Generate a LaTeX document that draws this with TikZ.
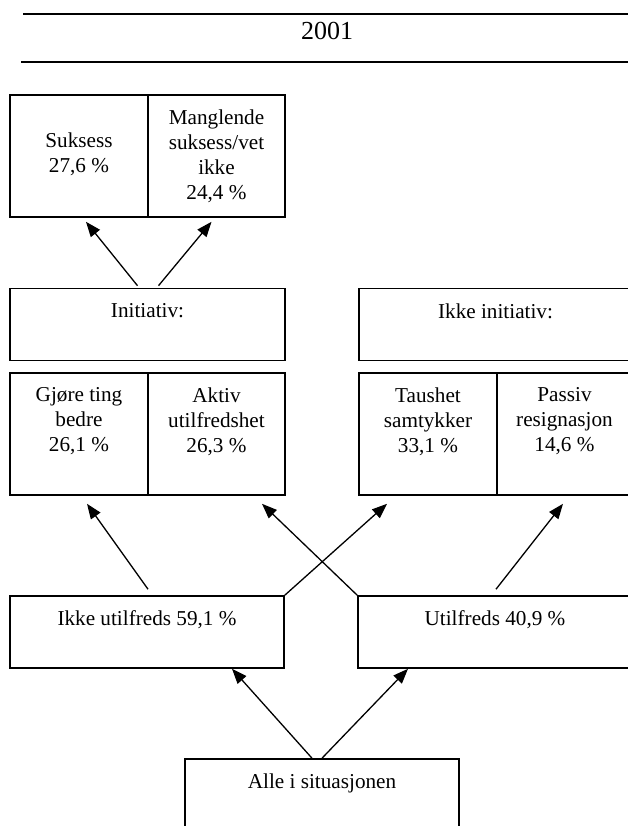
\documentclass[tikz,border=0pt]{standalone}
\usepackage{fontspec}
\setmainfont{Liberation Serif}
\usetikzlibrary{positioning,arrows.meta}
\begin{document}
\begin{tikzpicture}[x=1pt,y=-1pt,
  box/.style={draw,line width=1.6pt,inner sep=0pt},
  cell/.style={box,minimum width=138pt,minimum height=122pt},
  wide/.style={box,minimum width=275pt,minimum height=72pt},
  txt/.style={align=center,inner sep=0pt,font=\fontsize{21.2}{25}\selectfont},
  arr/.style={-{Triangle[length=15pt,width=11.5pt]},line width=1.3pt},
  rule/.style={line width=2.2pt}]
\useasboundingbox (0,0) rectangle (628,826);
\clip (0,0) rectangle (628,826);

% Year heading between two rules.
\draw[rule] (23,14) -- (628,14);
\draw[rule] (21,62) -- (628,62);
\node[txt,font=\fontsize{26}{30}\selectfont] (year) at (327,31) {2001};

% Outcome of taking initiative.
\node[cell] (suksess) at (79,156) {};
\node[cell,minimum width=137pt] (mangl) at (216.5,156) {};
\node[txt,below=38pt of suksess.north] (suksesstxt) {Suksess\\27,6 \%};
\node[txt,below=15pt of mangl.north] (mangltxt)
  {Manglende\\suksess/vet\\ikke\\24,4 \%};

% Initiative headings.
\node[wide] (init) at (147.5,324.5) {};
\node[wide,minimum width=273pt] (ikkeinit) at (495.5,324.5) {};
\node[txt,below=16pt of init.north] (inittxt) {Initiativ:};
\node[txt,below=16pt of ikkeinit.north] (ikkeinittxt) {Ikke initiativ:};

% The four reactions.
\node[cell] (gjore) at (79,434) {};
\node[cell,minimum width=137pt] (aktiv) at (216.5,434) {};
\node[cell] (taus) at (428,434) {};
\node[cell,minimum width=135pt] (passiv) at (564.5,434) {};
\node[txt,below=15pt of gjore.north] (gjoretxt) {Gjøre ting\\bedre\\26,1 \%};
\node[txt,below=15pt of aktiv.north] (aktivtxt) {Aktiv\\utilfredshet\\26,3 \%};
\node[txt,below=15pt of taus.north] (taustxt) {Taushet\\samtykker\\33,1 \%};
\node[txt,below=15pt of passiv.north] (passivtxt) {Passiv\\resignasjon\\14,6 \%};

% Satisfied or not.
\node[wide,minimum width=274pt] (ikkeutil) at (147,632) {};
\node[wide,minimum width=274pt] (util) at (495,632) {};
\node[txt,below=15pt of ikkeutil.north] (ikkeutiltxt) {Ikke utilfreds 59,1 \%};
\node[txt,below=15pt of util.north] (utiltxt) {Utilfreds 40,9 \%};

% Everyone, cut by the page edge.
\node[wide,minimum width=274pt] (alle) at (322,795) {};
\node[txt,below=15pt of alle.north] (alletxt) {Alle i situasjonen};

% Arrows upwards.
\draw[arr] ([xshift=-10pt,yshift=2pt]init.north) -- ([xshift=7pt,yshift=-4pt]suksess.south);
\draw[arr] ([xshift=11pt,yshift=2pt]init.north) -- ([xshift=-5pt,yshift=-4pt]mangl.south);
\draw[arr] ([xshift=1pt,yshift=6pt]ikkeutil.north) -- ([xshift=8pt,yshift=-8pt]gjore.south);
\draw[arr] (ikkeutil.north east) -- ([xshift=-41pt,yshift=-8pt]taus.south);
\draw[arr] (util.north west) -- ([xshift=45.5pt,yshift=-8pt]aktiv.south);
\draw[arr] ([xshift=1pt,yshift=6pt]util.north) -- ([xshift=-1.5pt,yshift=-8pt]passiv.south);
\draw[arr] ([xshift=-10pt]alle.north) -- ([xshift=85pt]ikkeutil.south);
\draw[arr] (alle.north) -- ([xshift=-87pt]util.south);
\end{tikzpicture}
\end{document}
